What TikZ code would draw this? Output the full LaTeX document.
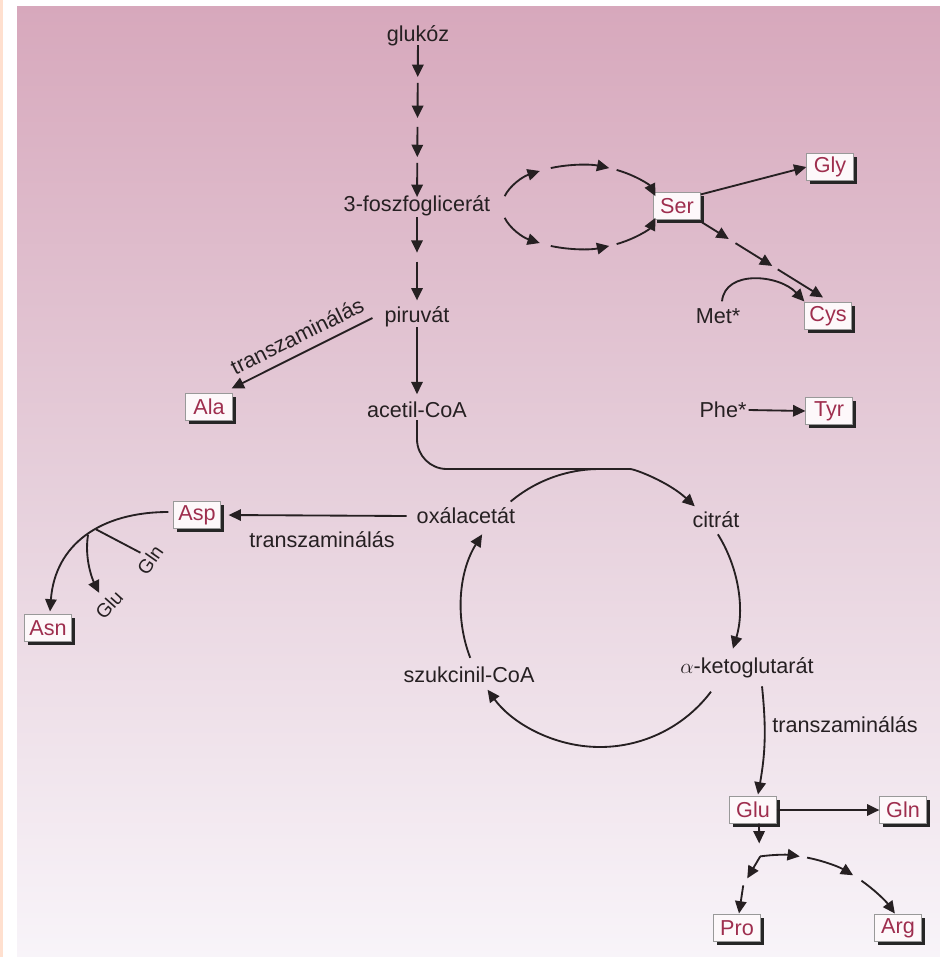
\documentclass[tikz,border=0pt]{standalone}
\usepackage{fontspec}
\setmainfont{Liberation Sans}
\usepackage{xcolor}
\usetikzlibrary{arrows.meta,calc,shadows}
\definecolor{bg_top}{HTML}{D7A8BC}
\definecolor{bg_mid}{HTML}{E6CFDB}
\definecolor{bg_bot}{HTML}{F8F4F9}
\definecolor{edge}{HTML}{FFE0CF}
\definecolor{ink}{HTML}{262022}
\definecolor{aa_red}{HTML}{9E2E4E}
\definecolor{aa_fill}{HTML}{FDF8FA}

\begin{document}
\begin{tikzpicture}[x={(0.02cm,0)}, y={(0,0.02cm)}]
            \tikzstyle{mol} = [font = \fontsize{12.3}{14}\selectfont, text = ink, inner sep = 1pt];
            \tikzstyle{aa} = [mol, text = aa_red, draw = black!40, line width = 0.4pt, fill = aa_fill, minimum width = 26.5pt, minimum height = 15pt, inner sep = 0pt, drop shadow = {shadow xshift = 2pt, shadow yshift = -2pt, fill = black!85, opacity = 1}];
            \tikzstyle{arr} = [draw = ink, line width = 1.05pt, -{Triangle[length=7pt,width=6.5pt]}];
            \useasboundingbox (0,0) rectangle (940,-957);
            \shade[top color=bg_top, bottom color=bg_bot, middle color=bg_mid] (17,-6) rectangle (940,-957);
            \draw[edge, line width=1.2pt] (1.5,0) -- (1.5,-957);
            \foreach \n/\t/\x/\y in {glukoz/glukóz/418/-36, pga/3-foszfoglicerát/417/-206,
                piruvat/piruvát/417/-317, acetil/acetil-CoA/417/-410,
                oxal/oxálacetát/466/-516, citrat/citrát/716/-520,
                akg/$\alpha$-ketoglutarát/747/-668, szuk/szukcinil-CoA/469/-675,
                met/Met*/718/-316, phe/Phe*/723/-410}
            {\node[mol] (\n) at (\x,\y) {\t};}
            \foreach \n/\t/\x/\y in {ala/Ala/209/-407, ser/Ser/677/-206, gly/Gly/830/-167,
                cys/Cys/828/-316, tyr/Tyr/829/-411, asp/Asp/197/-515, asn/Asn/48/-628,
                glu/Glu/753/-810, gln/Gln/903/-810, pro/Pro/737/-928, arg/Arg/898/-928}
            {\node[aa] (\n) at (\x,\y) {\t};}
            \node[mol, rotate=26.4] (tr_ala) at (297,-336) {transzaminálás};
            \node[mol] (tr_asp) at (322,-540) {transzaminálás};
            \node[mol] (tr_glu) at (845,-725) {transzaminálás};
            \node[mol, font=\fontsize{11}{13}\selectfont, rotate=48] (glu_l) at (109,-605) {Glu};
            \node[mol, font=\fontsize{11}{13}\selectfont, rotate=55] (gln_l) at (150,-560) {Gln};
            \foreach \s/\e/\a/\b in {glukoz/pga/0.053/0.241, glukoz/pga/0.276/0.482,
                glukoz/pga/0.535/0.712, glukoz/pga/0.747/0.947,
                pga/piruvat/0.1/0.42, pga/piruvat/0.5/0.85, piruvat/acetil/0.11/0.83}
            {\draw[arr] ($(\s)!\a!(\e)$) -- ($(\s)!\b!(\e)$);}
            \coordinate (ser_c) at (580,-207);
            \foreach \a/\b in {165/121, 112/68, 62/15, 195/239, 248/292, 298/345}
            {\draw[arr] ($(ser_c)+(\a:78 and 42)$) arc[start angle=\a, end angle=\b, x radius=78, y radius=42];}
            \draw[arr] ($(ser.north east)+(0,-2)$) -- (gly.west);
            \coordinate (ser_o) at ($(ser.south east)+(0,-2)$);
            \coordinate (cys_i) at ($(cys.north)+(-5,5)$);
            \foreach \a/\b in {0/0.23, 0.285/0.585, 0.63/1}
            {\draw[arr] ($(ser_o)!\a!(cys_i)$) -- ($(ser_o)!\b!(cys_i)$);}
            \draw[arr] ($(met.north)+(4,5)$) .. controls +(3,32) and +(-25,27) .. ($(cys.north west)+(0,1)$);
            \draw[arr] (phe.east) -- (tyr.west);
            \draw[arr] ($(piruvat.west)+(-10,-1)$) -- ($(ala.north east)+(-1,5)$);
            \draw[arr] ($(oxal.west)+(-8,0)$) -- ($(asp.east)+(8,0)$);
            \draw[arr] ($(asp.west)+(-5,3)$) .. controls +(-68,0) and +(5,67) .. coordinate[pos=0.42] (gln_j) coordinate[pos=0.48] (glu_j) ($(asn.north)+(2,3)$);
            \draw[arr] (glu_j) .. controls +(-4,-25) and +(-6,12) .. ($(glu_l.north)+(-3,6)$);
            \draw[ink, line width=1.05pt] ($(gln_l.north)+(-2,2)$) -- (gln_j);
            \coordinate (tca) at (600,-608);
            \draw[ink, line width=1.05pt] ($(tca)+(130:139)$) arc[start angle=130, end angle=90, radius=139];
            \draw[arr, rounded corners=17pt] (acetil.south) |- ($(tca)+(90:139)$) arc[start angle=90, end angle=47, radius=139];
            \foreach \a/\b in {32/-17, -37/-144, 201/148}
            {\draw[arr] ($(tca)+(\a:139)$) arc[start angle=\a, end angle=\b, radius=139];}
            \draw[arr] ($(akg.south)+(15,-6)$) to[bend left=8] ($(glu.north)+(5,2)$);
            \draw[arr] (glu.east) -- (gln.west);
            \coordinate (arg_c) at (780,-997);
            \coordinate (glu_b) at ($(arg_c)+(98:142)$);
            \draw[arr] ($(glu.south)+(6,0)$) -- ($(glu_b)+(-1,13)$);
            \draw[arr] (glu_b) -- ++(-13,-22);
            \draw[arr] ($(glu_b)+(-17,-29)$) -- ($(pro.north)+(2,1)$);
            \foreach \a/\b in {98/82, 79/59, 55/36}
            {\draw[arr] ($(arg_c)+(\a:142)$) arc[start angle=\a, end angle=\b, radius=142];}
\end{tikzpicture}
\end{document}
